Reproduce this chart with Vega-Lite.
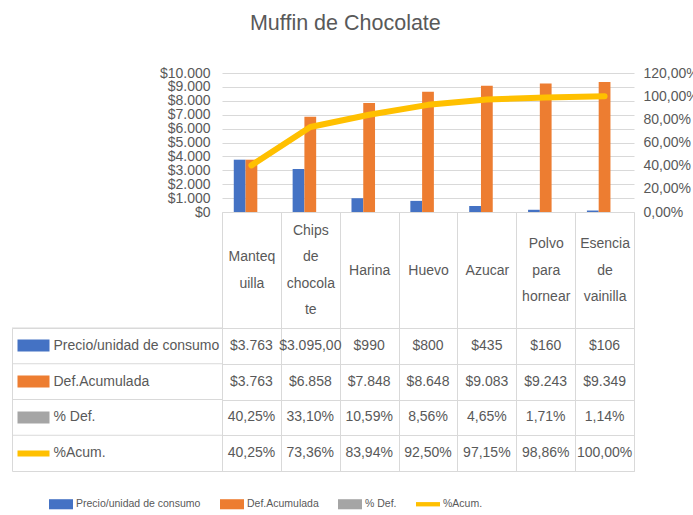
{
  "$schema": "https://vega.github.io/schema/vega-lite/v6.json",
  "padding": {"left": 10, "top": 12, "right": 5, "bottom": 5},
  "background": "white",
  "title": {"text": "Muffin de Chocolate", "fontSize": 21.5, "fontWeight": "normal", "color": "#595959", "anchor": "middle", "offset": 32, "dx": -9},
  "config": {
    "font": "Liberation Sans, Arial, sans-serif",
    "locale": {"number": {"decimal": ",", "thousands": ".", "grouping": [3], "currency": ["$", ""]}},
    "view": {"stroke": null},
    "axis": {"labelColor": "#595959", "title": null, "labelFlush": false, "labelOverlap": false}
  },
  "datasets": {
    "tabla": [
      {"ingrediente": "Mantequilla", "serie": "Precio/unidad de consumo", "valor": 3763, "texto": "$3.763"},
      {"ingrediente": "Chips de chocolate", "serie": "Precio/unidad de consumo", "valor": 3095, "texto": "$3.095,00"},
      {"ingrediente": "Harina", "serie": "Precio/unidad de consumo", "valor": 990, "texto": "$990"},
      {"ingrediente": "Huevo", "serie": "Precio/unidad de consumo", "valor": 800, "texto": "$800"},
      {"ingrediente": "Azucar", "serie": "Precio/unidad de consumo", "valor": 435, "texto": "$435"},
      {"ingrediente": "Polvo para hornear", "serie": "Precio/unidad de consumo", "valor": 160, "texto": "$160"},
      {"ingrediente": "Esencia de vainilla", "serie": "Precio/unidad de consumo", "valor": 106, "texto": "$106"},
      {"ingrediente": "Mantequilla", "serie": "Def.Acumulada", "valor": 3763, "texto": "$3.763"},
      {"ingrediente": "Chips de chocolate", "serie": "Def.Acumulada", "valor": 6858, "texto": "$6.858"},
      {"ingrediente": "Harina", "serie": "Def.Acumulada", "valor": 7848, "texto": "$7.848"},
      {"ingrediente": "Huevo", "serie": "Def.Acumulada", "valor": 8648, "texto": "$8.648"},
      {"ingrediente": "Azucar", "serie": "Def.Acumulada", "valor": 9083, "texto": "$9.083"},
      {"ingrediente": "Polvo para hornear", "serie": "Def.Acumulada", "valor": 9243, "texto": "$9.243"},
      {"ingrediente": "Esencia de vainilla", "serie": "Def.Acumulada", "valor": 9349, "texto": "$9.349"},
      {"ingrediente": "Mantequilla", "serie": "% Def.", "valor": 0.4025, "texto": "40,25%"},
      {"ingrediente": "Chips de chocolate", "serie": "% Def.", "valor": 0.331, "texto": "33,10%"},
      {"ingrediente": "Harina", "serie": "% Def.", "valor": 0.1059, "texto": "10,59%"},
      {"ingrediente": "Huevo", "serie": "% Def.", "valor": 0.0856, "texto": "8,56%"},
      {"ingrediente": "Azucar", "serie": "% Def.", "valor": 0.0465, "texto": "4,65%"},
      {"ingrediente": "Polvo para hornear", "serie": "% Def.", "valor": 0.0171, "texto": "1,71%"},
      {"ingrediente": "Esencia de vainilla", "serie": "% Def.", "valor": 0.0114, "texto": "1,14%"},
      {"ingrediente": "Mantequilla", "serie": "%Acum.", "valor": 0.4025, "texto": "40,25%"},
      {"ingrediente": "Chips de chocolate", "serie": "%Acum.", "valor": 0.7336, "texto": "73,36%"},
      {"ingrediente": "Harina", "serie": "%Acum.", "valor": 0.8394, "texto": "83,94%"},
      {"ingrediente": "Huevo", "serie": "%Acum.", "valor": 0.925, "texto": "92,50%"},
      {"ingrediente": "Azucar", "serie": "%Acum.", "valor": 0.9715, "texto": "97,15%"},
      {"ingrediente": "Polvo para hornear", "serie": "%Acum.", "valor": 0.9886, "texto": "98,86%"},
      {"ingrediente": "Esencia de vainilla", "serie": "%Acum.", "valor": 1.0, "texto": "100,00%"}
    ]
  },
  "data": {"name": "tabla"},
  "columns": 2,
  "bounds": "flush",
  "align": "each",
  "spacing": {"row": 116, "column": 0},
  "concat": [
    {
      "width": 210,
      "height": 139,
      "data": {"values": [{"t": ""}]},
      "mark": "text",
      "encoding": {"text": {"field": "t"}}
    },
    {
      "width": 412,
      "height": 139,
      "layer": [
        {
          "transform": [{"filter": "datum.serie !== '%Acum.'"}],
          "mark": {"type": "bar"},
          "encoding": {
            "x": {
              "field": "ingrediente", "type": "nominal",
              "sort": ["Mantequilla", "Chips de chocolate", "Harina", "Huevo", "Azucar", "Polvo para hornear", "Esencia de vainilla"],
              "scale": {"paddingInner": 0, "paddingOuter": 0},
              "axis": {
                "orient": "bottom", "domain": true, "domainColor": "#d9d9d9",
                "ticks": true, "tickBand": "extent", "tickSize": 116, "tickColor": "#d9d9d9",
                "labelPadding": {
                  "condition": [
                    {"test": "datum.value === 'Mantequilla'", "value": -71.25},
                    {"test": "datum.value === 'Chips de chocolate'", "value": -97.75},
                    {"test": "datum.value === 'Polvo para hornear' || datum.value === 'Esencia de vainilla'", "value": -84.5}
                  ],
                  "value": -58
                },
                "labelBaseline": "middle", "labelAlign": "center", "labelAngle": 0,
                "labelFontSize": 14, "labelLineHeight": 26.5, "labelLimit": 0, "labelBound": false,
                "labelExpr": "datum.label == 'Mantequilla' ? ['Manteq','uilla'] : datum.label == 'Chips de chocolate' ? ['Chips','de','chocola','te'] : datum.label == 'Polvo para hornear' ? ['Polvo','para','hornear'] : datum.label == 'Esencia de vainilla' ? ['Esencia','de','vainilla'] : datum.label"
              }
            },
            "xOffset": {
              "field": "serie", "type": "nominal",
              "sort": ["Precio/unidad de consumo", "Def.Acumulada", "% Def."],
              "scale": {"paddingInner": 0, "paddingOuter": 1.18}
            },
            "y": {
              "field": "valor", "type": "quantitative",
              "scale": {"domain": [0, 10000]},
              "axis": {
                "orient": "left", "format": "$,.0f", "tickCount": 10, "grid": true, "gridColor": "#d9d9d9",
                "domain": false, "ticks": false, "labelPadding": 12, "labelFontSize": 14
              }
            },
            "color": {
              "field": "serie", "type": "nominal",
              "scale": {
                "domain": ["Precio/unidad de consumo", "Def.Acumulada", "% Def.", "%Acum."],
                "range": ["#4472C4", "#ED7D31", "#A5A5A5", "#FFC000"]
              },
              "legend": {
                "orient": "none", "legendX": 37, "legendY": 419, "direction": "horizontal", "title": null,
                "labelFontSize": 10.5, "labelColor": "#595959", "labelOffset": 3, "columnPadding": 19,
                "symbolSize": 576, "symbolType": "M-1,-0.42H1V0.42H-1Z", "symbolStrokeWidth": 0,
                "encode": {
                  "symbols": {
                    "update": {
                      "shape": {"signal": "datum.value === '%Acum.' ? 'M-1,-0.18H1V0.18H-1Z' : 'M-1,-0.42H1V0.42H-1Z'"},
                      "size": {"value": 576},
                      "fill": {"scale": "color", "field": "value"},
                      "strokeWidth": {"value": 0}
                    }
                  }
                }
              }
            }
          }
        },
        {
          "transform": [{"filter": "datum.serie === '%Acum.'"}],
          "mark": {"type": "line", "strokeWidth": 6, "strokeCap": "round", "strokeJoin": "round"},
          "encoding": {
            "x": {
              "field": "ingrediente", "type": "nominal",
              "sort": ["Mantequilla", "Chips de chocolate", "Harina", "Huevo", "Azucar", "Polvo para hornear", "Esencia de vainilla"]
            },
            "y": {
              "field": "valor", "type": "quantitative",
              "scale": {"domain": [0, 1.2]},
              "axis": {
                "orient": "right", "format": ".2%", "tickCount": 6, "grid": false,
                "domain": false, "ticks": false, "labelPadding": 9, "labelFontSize": 14
              }
            },
            "color": {"field": "serie", "type": "nominal"}
          }
        }
      ],
      "resolve": {"scale": {"y": "independent"}, "axis": {"y": "independent"}}
    },
    {
      "width": 210,
      "height": 143,
      "view": {"stroke": "#d9d9d9"},
      "transform": [{"filter": "datum.ingrediente === 'Mantequilla'"}],
      "mark": {"type": "rule", "color": "#d9d9d9"},
      "encoding": {
        "y": {
          "field": "serie", "type": "nominal",
          "sort": ["Precio/unidad de consumo", "Def.Acumulada", "% Def.", "%Acum."],
          "bandPosition": 0,
          "axis": {
            "orient": "left", "offset": -37, "domain": false, "grid": false,
            "ticks": true, "tickSize": 32, "tickCap": "butt",
            "tickWidth": {"condition": {"test": "datum.value === '%Acum.'", "value": 6}, "value": 12},
            "tickColor": {
              "condition": [
                {"test": "datum.value === 'Precio/unidad de consumo'", "value": "#4472C4"},
                {"test": "datum.value === 'Def.Acumulada'", "value": "#ED7D31"},
                {"test": "datum.value === '%Acum.'", "value": "#FFC000"}
              ],
              "value": "#A5A5A5"
            },
            "labelAlign": "left", "labelPadding": -36, "labelBaseline": "middle",
            "labelFontSize": 14, "labelLimit": 0
          }
        }
      }
    },
    {
      "width": 412,
      "height": 143,
      "view": {"stroke": "#d9d9d9"},
      "mark": {"type": "text", "fontSize": 14, "color": "#595959"},
      "encoding": {
        "x": {
          "field": "ingrediente", "type": "nominal",
          "sort": ["Mantequilla", "Chips de chocolate", "Harina", "Huevo", "Azucar", "Polvo para hornear", "Esencia de vainilla"],
          "scale": {"paddingInner": 0, "paddingOuter": 0},
          "axis": {"labels": false, "ticks": false, "domain": false, "grid": true, "gridColor": "#d9d9d9", "tickBand": "extent"}
        },
        "y": {
          "field": "serie", "type": "nominal",
          "sort": ["Precio/unidad de consumo", "Def.Acumulada", "% Def.", "%Acum."],
          "axis": {"labels": false, "ticks": false, "domain": false, "grid": true, "gridColor": "#d9d9d9", "tickBand": "extent"}
        },
        "text": {"field": "texto"}
      }
    }
  ]
}
